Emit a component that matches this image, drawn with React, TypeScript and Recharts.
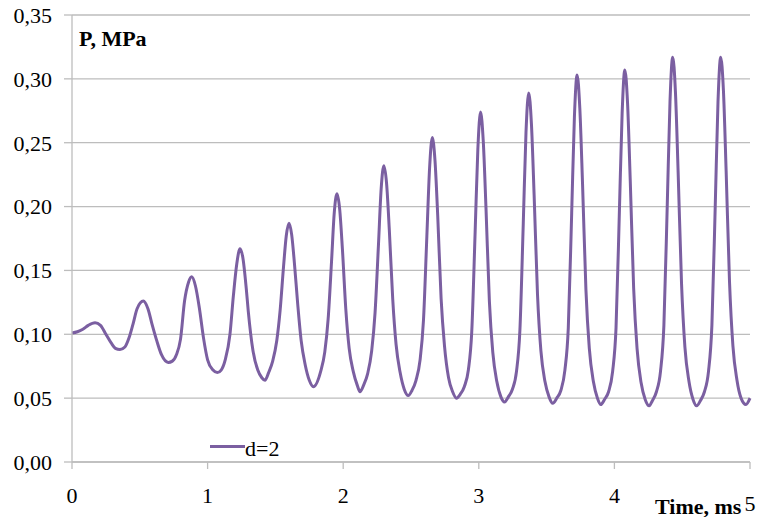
import React from 'react';
import { LineChart, Line, XAxis, YAxis, CartesianGrid } from 'recharts';

const timeMs: number[] = [
  0, 0.04, 0.08, 0.12, 0.17, 0.21, 0.25, 0.29, 0.32, 0.354,
  0.39, 0.42, 0.45, 0.48, 0.526, 0.56, 0.59, 0.625, 0.66, 0.71,
  0.74, 0.77, 0.8, 0.83, 0.86, 0.883, 0.91, 0.94, 0.97, 1.0, 1.04, 1.072,
  1.1, 1.13, 1.165, 1.19, 1.215, 1.239, 1.26, 1.285, 1.3, 1.335, 1.37, 1.4, 1.423,
  1.45, 1.48, 1.51, 1.535, 1.56, 1.58, 1.6, 1.62, 1.64, 1.665, 1.69, 1.72, 1.75, 1.78,
  1.834, 1.864, 1.889, 1.914, 1.934, 1.954, 1.974, 1.994, 2.019, 2.044, 2.074, 2.104, 2.124,
  2.15, 2.18, 2.21, 2.235, 2.26, 2.28, 2.3, 2.32, 2.34, 2.365, 2.39, 2.42, 2.45, 2.48,
  2.507, 2.537, 2.567, 2.592, 2.617, 2.637, 2.657, 2.677, 2.697, 2.722, 2.747, 2.777, 2.807, 2.835,
  2.863, 2.893, 2.923, 2.948, 2.973, 2.993, 3.013, 3.033, 3.053, 3.078, 3.103, 3.133, 3.163, 3.19,
  3.218, 3.248, 3.278, 3.303, 3.328, 3.348, 3.368, 3.388, 3.408, 3.433, 3.458, 3.488, 3.518, 3.545,
  3.575, 3.605, 3.635, 3.66, 3.685, 3.705, 3.725, 3.745, 3.765, 3.79, 3.815, 3.845, 3.875, 3.9,
  3.927, 3.957, 3.987, 4.012, 4.037, 4.057, 4.077, 4.097, 4.117, 4.142, 4.167, 4.197, 4.227, 4.257,
  4.28, 4.31, 4.34, 4.365, 4.39, 4.41, 4.43, 4.45, 4.47, 4.495, 4.52, 4.55, 4.58, 4.607,
  4.634, 4.664, 4.694, 4.719, 4.744, 4.764, 4.784, 4.804, 4.824, 4.849, 4.874, 4.904, 4.934, 4.97, 5.0,
];

const pressureMPa: number[] = [
  0.101, 0.102, 0.104, 0.107, 0.109, 0.107, 0.1, 0.093, 0.089, 0.088,
  0.09, 0.097, 0.108, 0.12, 0.126, 0.12, 0.108, 0.095, 0.084, 0.078,
  0.079, 0.084, 0.096, 0.126, 0.141, 0.145, 0.138, 0.12, 0.097, 0.08, 0.072, 0.07,
  0.072, 0.08, 0.1, 0.13, 0.155, 0.167, 0.16, 0.136, 0.118, 0.087, 0.072, 0.066, 0.064,
  0.07, 0.079, 0.095, 0.119, 0.153, 0.177, 0.187, 0.178, 0.156, 0.123, 0.095, 0.076, 0.064, 0.059,
  0.071, 0.086, 0.112, 0.157, 0.195, 0.21, 0.198, 0.167, 0.12, 0.089, 0.071, 0.06, 0.055,
  0.06, 0.069, 0.087, 0.117, 0.17, 0.214, 0.232, 0.218, 0.182, 0.128, 0.092, 0.07, 0.057, 0.052,
  0.056, 0.064, 0.08, 0.111, 0.177, 0.23, 0.254, 0.236, 0.193, 0.128, 0.091, 0.066, 0.055, 0.05,
  0.053, 0.059, 0.072, 0.102, 0.18, 0.245, 0.274, 0.251, 0.199, 0.126, 0.086, 0.063, 0.051, 0.047,
  0.051, 0.057, 0.071, 0.103, 0.187, 0.258, 0.289, 0.265, 0.209, 0.131, 0.087, 0.063, 0.051, 0.046,
  0.05, 0.056, 0.072, 0.105, 0.195, 0.27, 0.303, 0.277, 0.218, 0.135, 0.089, 0.063, 0.05, 0.045,
  0.049, 0.055, 0.071, 0.105, 0.197, 0.273, 0.307, 0.281, 0.22, 0.136, 0.089, 0.062, 0.049, 0.044,
  0.048, 0.055, 0.071, 0.107, 0.202, 0.282, 0.317, 0.29, 0.227, 0.14, 0.09, 0.063, 0.049, 0.044,
  0.048, 0.055, 0.071, 0.107, 0.202, 0.282, 0.317, 0.291, 0.228, 0.141, 0.091, 0.064, 0.05, 0.045, 0.05,
];

const xTicks: number[] = [0, 1, 2, 3, 4, 5];
const yTicks: number[] = [0, 0.05, 0.1, 0.15, 0.2, 0.25, 0.3, 0.35];
const seriesName = 'd=2';
const yTitle = 'P, MPa';
const xTitle = 'Time, ms';

const data = timeMs.map((t, i) => ({ t, p: pressureMPa[i] }));

const FONT = 'Liberation Serif, Times New Roman, DejaVu Serif, serif';
const LINE_COLOR = '#7b5fa1';
const GRID = '#bdbdbd';

const XTick = (props: any) => {
  const { x, y, payload } = props;
  const shift = payload.value === 5 ? 8 : 0;
  return (
    <text x={x} y={y + shift} dy="0.71em" textAnchor="middle" style={{ fontFamily: FONT }} fontSize={22} fill="#000">
      {String(payload.value)}
    </text>
  );
};

const YTick = (props: any) => {
  const { x, y, payload } = props;
  return (
    <text x={x} y={y} dy="0.355em" textAnchor="end" style={{ fontFamily: FONT }} fontSize={22} fill="#000">
      {Number(payload.value).toFixed(2).replace('.', ',')}
    </text>
  );
};

export default function App() {
  return (
    <div style={{ position: 'absolute', left: 0, top: 0, width: 758, height: 517, background: '#fff', fontFamily: FONT }}>
      <LineChart width={758} height={517} data={data} margin={{ top: 15, right: 8, bottom: 15, left: 0 }}>
        <CartesianGrid horizontal={true} vertical={false} stroke={GRID} strokeWidth={1.3} />
        <XAxis
          dataKey="t"
          type="number"
          domain={[0, 5]}
          ticks={xTicks}
          interval={0}
          height={40}
          stroke={GRID}
          strokeWidth={1.3}
          tickSize={7}
          tickMargin={18}
          tick={<XTick />}
        />
        <YAxis
          type="number"
          domain={[0, 0.35]}
          ticks={yTicks}
          interval={0}
          width={72}
          stroke={GRID}
          strokeWidth={1.3}
          tickSize={8}
          tickMargin={12}
          tick={<YTick />}
        />
        <Line
          type="monotone"
          dataKey="p"
          name={seriesName}
          stroke={LINE_COLOR}
          strokeWidth={3}
          dot={false}
          isAnimationActive={false}
        />
      </LineChart>
      <div style={{ position: 'absolute', left: 210, top: 435, width: 90, height: 26, fontSize: 22 }}>
        <div style={{ position: 'absolute', left: 0, top: 10, width: 35, height: 3, background: LINE_COLOR }} />
        <div style={{ position: 'absolute', left: 35, top: 3, lineHeight: '22px', color: '#000' }}>{seriesName}</div>
      </div>
      <div style={{ position: 'absolute', left: 79, top: 28, fontSize: 22, lineHeight: '22px', fontWeight: 'bold', color: '#000', whiteSpace: 'nowrap' }}>
        {yTitle}
      </div>
      <div style={{ position: 'absolute', left: 655, top: 496, fontSize: 22, lineHeight: '22px', fontWeight: 'bold', color: '#000', whiteSpace: 'nowrap' }}>
        {xTitle}
      </div>
    </div>
  );
}
